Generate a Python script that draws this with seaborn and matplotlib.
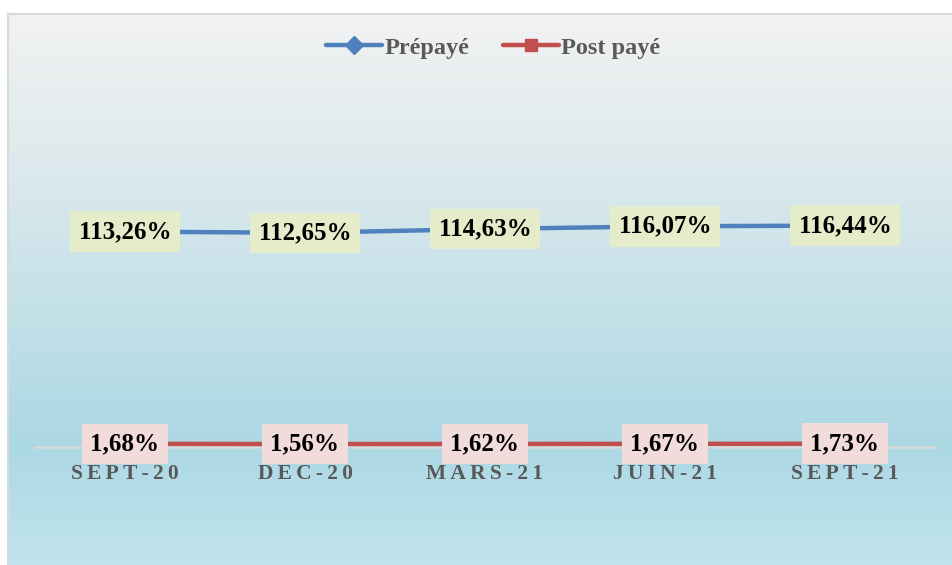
import numpy as np
import pandas as pd
import matplotlib
matplotlib.use('Agg')
import matplotlib.pyplot as plt
import seaborn as sns
from matplotlib.colors import LinearSegmentedColormap
from matplotlib.lines import Line2D

# --- data ---
periods = ['SEPT-20', 'DEC-20', 'MARS-21', 'JUIN-21', 'SEPT-21']
prepaye = [113.26, 112.65, 114.63, 116.07, 116.44]
post_paye = [1.68, 1.56, 1.62, 1.67, 1.73]
series_names = ['Prépayé', 'Post payé']

df = pd.DataFrame({
    'period': periods * 2,
    'x': list(range(len(periods))) * 2,
    'value': prepaye + post_paye,
    'serie': [series_names[0]] * len(periods) + [series_names[1]] * len(periods),
})

sns.set_theme(style='white')
plt.rcParams['font.family'] = ['Liberation Serif', 'DejaVu Serif']

fig = plt.figure(figsize=(9.52, 5.65), dpi=100)
W, H = 952, 565

# --- background panel with gradient ---
bg = fig.add_axes([8 / W, 0, 1 - 8 / W, (H - 14) / H])
cmap = LinearSegmentedColormap.from_list('bg', [
    (0.0, '#f2f2f2'), (0.25, '#dfeaed'), (0.78, '#acd8e4'), (1.0, '#c0e4ec')])
grad = np.linspace(0, 1, 256).reshape(-1, 1)
bg.imshow(grad, aspect='auto', cmap=cmap, extent=[0, 1, 0, 1], origin='upper')
bg.set_xticks([])
bg.set_yticks([])
for side in ['right', 'bottom']:
    bg.spines[side].set_visible(False)
for side in ['left', 'top']:
    bg.spines[side].set_color('#d9d9d9')
    bg.spines[side].set_linewidth(1.5)

# --- main plot ---
ax = fig.add_axes([35 / W, (H - 447) / H, 900 / W, 367 / H])
ax.patch.set_alpha(0)
palette = {'Prépayé': '#4f81bd', 'Post payé': '#c0504d'}
markers = {'Prépayé': 'D', 'Post payé': 's'}
sns.lineplot(data=df, x='x', y='value', hue='serie', style='serie',
             palette=palette, markers=markers, dashes=False, linewidth=3.2,
             markersize=9, markeredgewidth=0, ax=ax, legend=False)

ax.set_xlim(-0.5, len(periods) - 0.5)
ax.set_ylim(0, 193)
ax.set_xlabel('')
ax.set_ylabel('')
ax.set_yticks([])
ax.set_xticks(range(len(periods)))
ax.set_xticklabels(['\u2009'.join(p) for p in periods], fontsize=15.5,
                   fontweight='bold', color='#595959')
ax.tick_params(axis='x', length=0, pad=12)
for side in ['left', 'right', 'top']:
    ax.spines[side].set_visible(False)
ax.spines['bottom'].set_color('#d9d9d9')
ax.spines['bottom'].set_linewidth(1.8)
ax.spines['bottom'].set_zorder(1)

def fmt(v):
    return f'{v:.2f}'.replace('.', ',') + '%'

for i, v in enumerate(prepaye):
    ax.text(i, v, fmt(v), ha='center', va='center', fontsize=18,
            fontweight='bold', color='black', zorder=5,
            bbox=dict(boxstyle='square,pad=0.35', fc='#e4ecca', ec='none'))
for i, v in enumerate(post_paye):
    ax.text(i, v, fmt(v), ha='center', va='center', fontsize=18,
            fontweight='bold', color='black', zorder=5,
            bbox=dict(boxstyle='square,pad=0.35', fc='#f2dcdb', ec='none'))

handles = [Line2D([], [], color=palette[s], marker=markers[s], lw=3.2,
                  markersize=9) for s in series_names]
leg = fig.legend(handles, series_names, loc='center', bbox_to_anchor=(0.518, (H - 48) / H),
                 ncol=2, frameon=False, handlelength=2.3, handletextpad=0.1,
                 columnspacing=1.4, prop={'size': 17.5, 'weight': 'bold'})
for t in leg.get_texts():
    t.set_color('#595959')

fig.savefig('out.png', dpi=100)
